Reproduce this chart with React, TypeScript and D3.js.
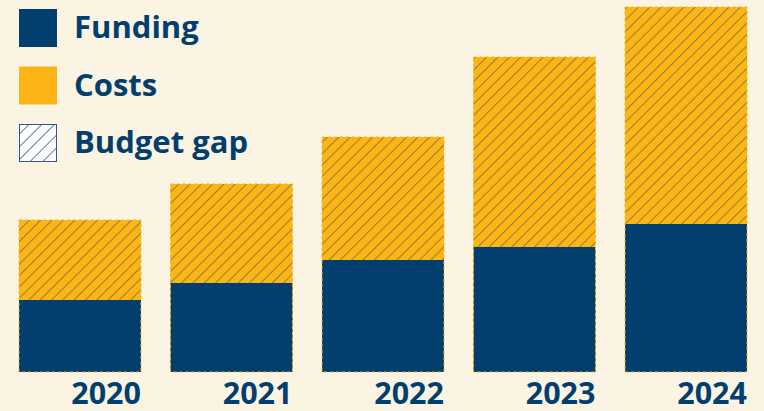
import React from "react";
import * as d3 from "d3";

const years = ["2020", "2021", "2022", "2023", "2024"];
const costs = [152, 188, 235, 315, 365];
const funding = [72, 89, 112, 125, 148];
const legendLabels = ["Funding", "Costs", "Budget gap"];

const W = 764;
const H = 411;
const NAVY = "#023f6e";
const YELLOW = "#fdb515";
const BG = "#fcf4e3";

export default function App() {
  const x = d3.scaleBand<string>().domain(years).range([19, 747]).paddingInner(0.195).paddingOuter(0);
  const y = d3.scaleLinear().domain([0, 365]).range([372, 7]);
  const font = "'Open Sans', 'Noto Sans', sans-serif";

  return (
    <svg width={W} height={H} style={{ position: "absolute", left: 0, top: 0, background: BG }}>
      <defs>
        <pattern id="hatch" patternUnits="userSpaceOnUse" width={8} height={8} patternTransform="rotate(45)">
          <line x1={0} y1={0} x2={0} y2={8} stroke={NAVY} strokeWidth={1} opacity={0.9} />
        </pattern>
        <pattern id="hatchLegend" patternUnits="userSpaceOnUse" width={9} height={9} patternTransform="rotate(45)">
          <rect width={9} height={9} fill="#ffffff" />
          <line x1={0} y1={0} x2={0} y2={9} stroke={NAVY} strokeWidth={1.3} />
        </pattern>
      </defs>
      <rect width={W} height={H} fill={BG} />
      {years.map((yr, i) => {
        const bx = x(yr)!;
        const bw = x.bandwidth();
        return (
          <g key={yr}>
            <rect x={bx} y={y(costs[i])} width={bw} height={y(0) - y(costs[i])} fill={YELLOW} />
            <rect x={bx} y={y(costs[i])} width={bw} height={y(0) - y(costs[i])} fill="url(#hatch)" />
            <rect x={bx} y={y(funding[i])} width={bw} height={y(0) - y(funding[i])} fill={NAVY} />
            <rect x={bx} y={y(costs[i])} width={bw} height={y(0) - y(costs[i])} fill="none" stroke={YELLOW} strokeWidth={1} strokeDasharray="3 3" />
            <text x={bx + bw} y={404} textAnchor="end" fill={NAVY} fontFamily={font} fontWeight={700} fontSize={30.5}>
              {yr}
            </text>
          </g>
        );
      })}
      {legendLabels.map((lab, i) => {
        const ly = 9 + i * 57.5;
        return (
          <g key={lab}>
            {i === 0 && <rect x={19} y={ly} width={38} height={38} fill={NAVY} />}
            {i === 1 && <rect x={19} y={ly} width={38} height={38} fill={YELLOW} />}
            {i === 2 && <rect x={19.5} y={ly + 0.5} width={37} height={37} fill="url(#hatchLegend)" stroke="#3b4e9a" strokeWidth={1} />}
            <text x={74} y={ly + 29} fill={NAVY} fontFamily={font} fontWeight={700} fontSize={31}>
              {lab}
            </text>
          </g>
        );
      })}
    </svg>
  );
}
